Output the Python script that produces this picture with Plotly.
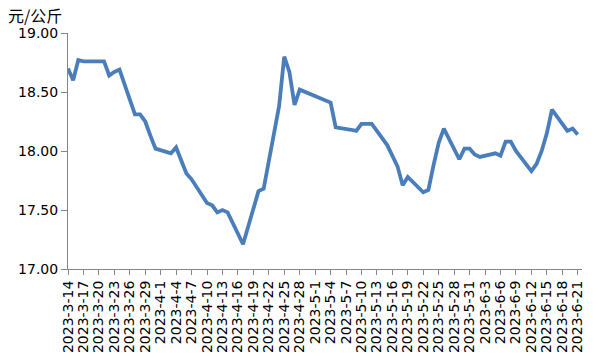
import plotly.graph_objects as go

dates = ["2023-03-14","2023-03-15","2023-03-16","2023-03-17","2023-03-20","2023-03-21","2023-03-22","2023-03-23","2023-03-24",
         "2023-03-27","2023-03-28","2023-03-29","2023-03-30","2023-03-31","2023-04-03","2023-04-04","2023-04-05","2023-04-06",
         "2023-04-07","2023-04-10","2023-04-11","2023-04-12","2023-04-13","2023-04-14","2023-04-17","2023-04-18","2023-04-19",
         "2023-04-20","2023-04-21","2023-04-24","2023-04-25","2023-04-26","2023-04-27","2023-04-28","2023-05-04","2023-05-05",
         "2023-05-08","2023-05-09","2023-05-10","2023-05-11","2023-05-12","2023-05-15","2023-05-16","2023-05-17","2023-05-18",
         "2023-05-19","2023-05-22","2023-05-23","2023-05-24","2023-05-25","2023-05-26","2023-05-29","2023-05-30","2023-05-31",
         "2023-06-01","2023-06-02","2023-06-05","2023-06-06","2023-06-07","2023-06-08","2023-06-09","2023-06-12","2023-06-13",
         "2023-06-14","2023-06-15","2023-06-16","2023-06-19","2023-06-20","2023-06-21"]

prices = [18.70, 18.60, 18.77, 18.76, 18.76, 18.76, 18.64, 18.67, 18.69,
          18.31, 18.31, 18.25, 18.13, 18.02, 17.98, 18.03, 17.92, 17.81,
          17.76, 17.56, 17.54, 17.48, 17.50, 17.48, 17.21, 17.36, 17.51,
          17.66, 17.68, 18.38, 18.80, 18.67, 18.39, 18.52, 18.41, 18.20,
          18.18, 18.17, 18.23, 18.23, 18.23, 18.05, 17.96, 17.87, 17.71,
          17.78, 17.65, 17.67, 17.88, 18.07, 18.19, 17.93, 18.02, 18.02,
          17.97, 17.95, 17.98, 17.96, 18.08, 18.08, 18.00, 17.83, 17.89,
          18.00, 18.15, 18.35, 18.17, 18.19, 18.14]

tick_dates = ["2023-03-14","2023-03-17","2023-03-20","2023-03-23","2023-03-26","2023-03-29","2023-04-01","2023-04-04",
              "2023-04-07","2023-04-10","2023-04-13","2023-04-16","2023-04-19","2023-04-22","2023-04-25","2023-04-28",
              "2023-05-01","2023-05-04","2023-05-07","2023-05-10","2023-05-13","2023-05-16","2023-05-19","2023-05-22",
              "2023-05-25","2023-05-28","2023-05-31","2023-06-03","2023-06-06","2023-06-09","2023-06-12","2023-06-15",
              "2023-06-18","2023-06-21"]
tick_labels = ["2023-3-14","2023-3-17","2023-3-20","2023-3-23","2023-3-26","2023-3-29","2023-4-1","2023-4-4",
               "2023-4-7","2023-4-10","2023-4-13","2023-4-16","2023-4-19","2023-4-22","2023-4-25","2023-4-28",
               "2023-5-1","2023-5-4","2023-5-7","2023-5-10","2023-5-13","2023-5-16","2023-5-19","2023-5-22",
               "2023-5-25","2023-5-28","2023-5-31","2023-6-3","2023-6-6","2023-6-9","2023-6-12","2023-6-15",
               "2023-6-18","2023-6-21"]

y_ticks = [17.0, 17.5, 18.0, 18.5, 19.0]
y_labels = ["17.00", "17.50", "18.00", "18.50", "19.00"]
unit = "元/公斤"

fig = go.Figure()
fig.add_trace(go.Scatter(x=dates, y=prices, mode="lines",
                         line=dict(color="#4A7EBB", width=3.8), hoverinfo="x+y"))

axis_col = "#868686"
fig.update_layout(
    width=600, height=360,
    margin=dict(l=68, r=18, t=33, b=91, autoexpand=False),
    paper_bgcolor="white", plot_bgcolor="white",
    showlegend=False,
    font=dict(family="DejaVu Sans", size=14, color="black"),
    xaxis=dict(type="date", range=["2023-03-14", "2023-06-21 20:00"], automargin=False,
               tickmode="array", tickvals=tick_dates, ticktext=tick_labels,
               tickangle=-90, tickfont=dict(size=14, family="DejaVu Sans"),
               showgrid=False, zeroline=False, showline=True, linecolor=axis_col, linewidth=1,
               ticks="outside", ticklen=5, tickcolor=axis_col),
    yaxis=dict(range=[17, 19], tickmode="array", tickvals=y_ticks, ticktext=y_labels, automargin=False,
               tickfont=dict(size=14, family="DejaVu Sans"),
               showgrid=False, zeroline=False, showline=True, linecolor=axis_col, linewidth=1,
               ticks="outside", ticklen=6, tickcolor=axis_col),
)
fig.add_annotation(text=unit, xref="paper", yref="paper", x=-0.1187, y=1.0233,
                   xanchor="left", yanchor="bottom", showarrow=False, borderpad=0,
                   font=dict(family="Noto Sans CJK SC", size=16, color="black"))
fig.write_html("out.html", config={"displayModeBar": False},
               post_script="document.body.style.margin='0';document.body.style.overflow='hidden';")
